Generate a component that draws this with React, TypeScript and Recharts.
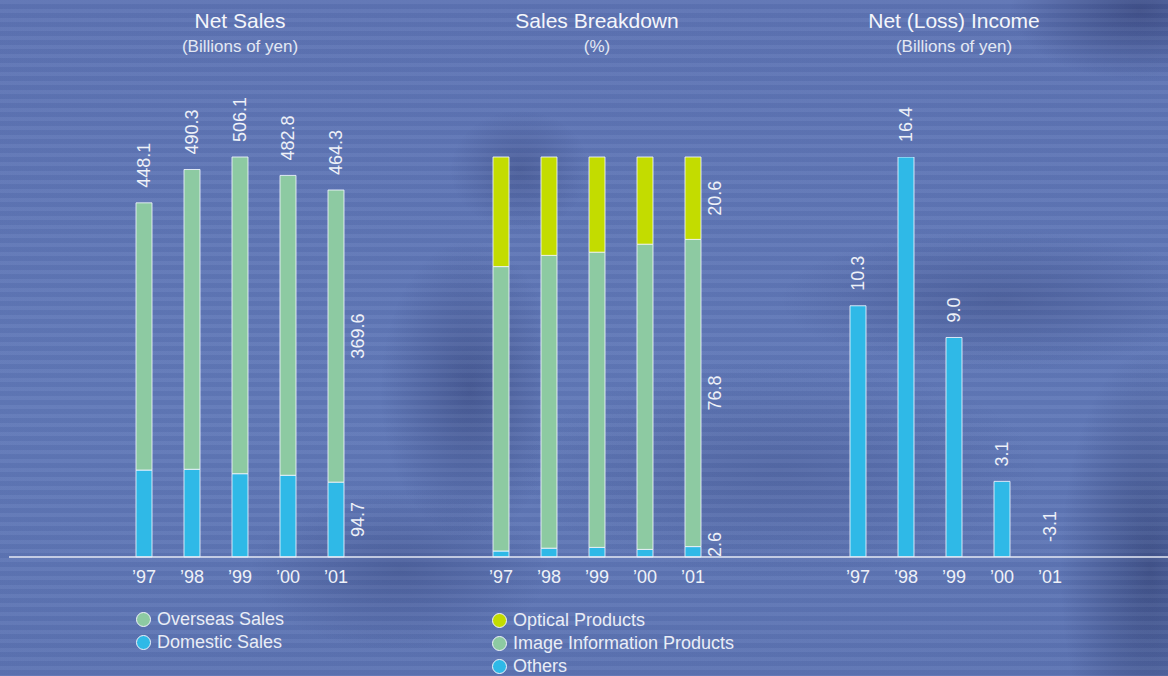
import { Bar, BarChart, LabelList, Rectangle, XAxis, YAxis } from 'recharts';

const years = ['’97', '’98', '’99', '’00', '’01'];

// Net Sales (billions of yen)
const domesticSales = [110.0, 111.0, 105.4, 103.4, 94.7];
const overseasSales = [338.1, 379.3, 400.7, 379.4, 369.6];
const netSalesTotal = [448.1, 490.3, 506.1, 482.8, 464.3];

// Sales Breakdown (%)
const othersShare = [1.5, 2.2, 2.4, 1.9, 2.6];
const imageInfoShare = [71.1, 73.2, 73.8, 76.3, 76.8];
const opticalShare = [27.4, 24.6, 23.8, 21.8, 20.6];

// Net (Loss) Income (billions of yen)
const netIncome = [10.3, 16.4, 9.0, 3.1, -3.1];

const salesData = years.map((year, i) => ({
  year,
  domestic: domesticSales[i],
  overseas: overseasSales[i],
  total: netSalesTotal[i],
}));

const breakdownData = years.map((year, i) => ({
  year,
  others: othersShare[i],
  image: imageInfoShare[i],
  optical: opticalShare[i],
}));

const incomeData = years.map((year, i) => ({ year, income: netIncome[i] }));

const GREEN = '#8dcaa2';
const BLUE = '#2fb9e7';
const LIME = '#c3dc00';
const TEXT = '#eef1f8';
const OUTLINE = 'rgba(240,245,255,0.85)';
const FONT = '"Liberation Sans", Arial, Helvetica, sans-serif';

const CHART_H = 600;
const margin = { top: 157, right: 0, left: 0, bottom: 0 };

const fmt = (v: number) => Number(v).toFixed(1);

const rotated = (x: number, y: number, text: string, anchor: string) => (
  <text
    x={x}
    y={y}
    transform={`rotate(-90, ${x}, ${y})`}
    textAnchor={anchor}
    dy="0.36em"
    fill={TEXT}
    fontSize={18}
    fontFamily={FONT}
  >
    {text}
  </text>
);

const box = (props: any) => {
  const vb = props.viewBox ?? props;
  return { x: Number(vb.x), y: Number(vb.y), width: Number(vb.width), height: Number(vb.height) };
};

// value written above the bar, reading upward
const AboveLabel = (props: any) => {
  const { x, y, width, height } = box(props);
  return rotated(x + width / 2, Math.min(y, y + height) - 15, fmt(props.value), 'start');
};

// value written to the right of the last bar's segment
const SideLabel = (props: any) => {
  if (props.index !== years.length - 1) return null;
  const { x, y, width, height } = box(props);
  const top = Math.min(y, y + height);
  const h = Math.abs(height);
  const cx = x + width + 14;
  if (h < 30) return rotated(cx, top + h, fmt(props.value), 'start');
  return rotated(cx, top + h / 2, fmt(props.value), 'middle');
};

const YearTick = ({ x, y, payload }: any) => (
  <text x={x} y={y} dy="0.71em" textAnchor="middle" fill={TEXT} fontSize={18} fontFamily={FONT}>
    {payload.value}
  </text>
);

const IncomeBar = (props: any) =>
  props.payload && props.payload.income < 0 ? <g /> : <Rectangle {...props} />;

const xAxisProps = {
  dataKey: 'year',
  height: 43,
  tickLine: false,
  tickSize: 0,
  tickMargin: 13,
  axisLine: { stroke: '#e6eaf4', strokeWidth: 1.5 },
  tick: <YearTick />,
  interval: 0 as const,
};

function Title({ x, title, sub }: { x: number; title: string; sub: string }) {
  return (
    <>
      <div
        style={{
          position: 'absolute',
          left: x,
          top: 9,
          transform: 'translateX(-50%)',
          fontSize: 21,
          lineHeight: '24px',
          whiteSpace: 'nowrap',
          color: '#f4f6fb',
        }}
      >
        {title}
      </div>
      <div
        style={{
          position: 'absolute',
          left: x,
          top: 37,
          transform: 'translateX(-50%)',
          fontSize: 17,
          lineHeight: '20px',
          whiteSpace: 'nowrap',
          color: '#e3e8f3',
        }}
      >
        {sub}
      </div>
    </>
  );
}

function LegendList({ x, y, items }: { x: number; y: number; items: { label: string; color: string }[] }) {
  return (
    <div style={{ position: 'absolute', left: x, top: y }}>
      {items.map((it) => (
        <div key={it.label} style={{ display: 'flex', alignItems: 'center', height: 23 }}>
          <span
            style={{
              width: 13,
              height: 13,
              borderRadius: '50%',
              background: it.color,
              border: '1.5px solid #f0f3fa',
              marginRight: 6,
              flex: 'none',
            }}
          />
          <span style={{ fontSize: 18, color: '#e9edf6', whiteSpace: 'nowrap' }}>{it.label}</span>
        </div>
      ))}
    </div>
  );
}

const background = [
  'repeating-linear-gradient(180deg, rgba(255,255,255,0.035) 0px, rgba(255,255,255,0.035) 4px, rgba(10,20,60,0.04) 4px, rgba(10,20,60,0.04) 9px)',
  'radial-gradient(ellipse 130px 70px at 1140px 10px, rgba(35,45,95,0.5), rgba(35,45,95,0) 100%)',
  'radial-gradient(ellipse 70px 60px at 520px 170px, rgba(35,45,95,0.3), rgba(35,45,95,0) 100%)',
  'radial-gradient(ellipse 90px 150px at 470px 390px, rgba(35,45,95,0.4), rgba(35,45,95,0) 100%)',
  'radial-gradient(ellipse 150px 80px at 400px 570px, rgba(35,45,95,0.28), rgba(35,45,95,0) 100%)',
  'radial-gradient(ellipse 220px 70px at 1000px 300px, rgba(35,45,95,0.28), rgba(35,45,95,0) 100%)',
  'radial-gradient(ellipse 90px 220px at 1150px 570px, rgba(30,40,85,0.45), rgba(30,40,85,0) 100%)',
  'radial-gradient(ellipse 260px 110px at 780px 470px, rgba(40,50,100,0.2), rgba(40,50,100,0) 100%)',
  'linear-gradient(180deg, #5e74b4 0%, #6179b8 60%, #5d74b3 100%)',
].join(', ');

export default function App() {
  return (
    <div
      style={{
        position: 'absolute',
        left: 0,
        top: 0,
        width: 1168,
        height: 676,
        overflow: 'hidden',
        background,
        fontFamily: FONT,
      }}
    >
      <Title x={240} title="Net Sales" sub="(Billions of yen)" />
      <Title x={597} title="Sales Breakdown" sub="(%)" />
      <Title x={954} title="Net (Loss) Income" sub="(Billions of yen)" />

      <div style={{ position: 'absolute', left: 9, top: 0 }}>
        <BarChart width={411} height={CHART_H} data={salesData} margin={margin} barSize={16}>
          <XAxis {...xAxisProps} padding={{ left: 111, right: 60 }} />
          <YAxis hide domain={[0, 506.1]} />
          <Bar dataKey="domestic" stackId="s" fill={BLUE} stroke={OUTLINE} strokeWidth={1} isAnimationActive={false}>
            <LabelList dataKey="domestic" content={<SideLabel />} />
          </Bar>
          <Bar dataKey="overseas" stackId="s" fill={GREEN} stroke={OUTLINE} strokeWidth={1} isAnimationActive={false}>
            <LabelList dataKey="overseas" content={<SideLabel />} />
            <LabelList dataKey="total" content={<AboveLabel />} />
          </Bar>
        </BarChart>
      </div>

      <div style={{ position: 'absolute', left: 420, top: 0 }}>
        <BarChart width={357} height={CHART_H} data={breakdownData} margin={margin} barSize={16}>
          <XAxis {...xAxisProps} padding={{ left: 57, right: 60 }} />
          <YAxis hide domain={[0, 100]} />
          <Bar dataKey="others" stackId="b" fill={BLUE} stroke={OUTLINE} strokeWidth={1} isAnimationActive={false}>
            <LabelList dataKey="others" content={<SideLabel />} />
          </Bar>
          <Bar dataKey="image" stackId="b" fill={GREEN} stroke={OUTLINE} strokeWidth={1} isAnimationActive={false}>
            <LabelList dataKey="image" content={<SideLabel />} />
          </Bar>
          <Bar dataKey="optical" stackId="b" fill={LIME} stroke={OUTLINE} strokeWidth={1} isAnimationActive={false}>
            <LabelList dataKey="optical" content={<SideLabel />} />
          </Bar>
        </BarChart>
      </div>

      <div style={{ position: 'absolute', left: 777, top: 0 }}>
        <BarChart width={391} height={CHART_H} data={incomeData} margin={margin} barSize={16}>
          <XAxis {...xAxisProps} padding={{ left: 57, right: 94 }} />
          <YAxis hide domain={[0, 16.4]} allowDataOverflow />
          <Bar
            dataKey="income"
            fill={BLUE}
            stroke={OUTLINE}
            strokeWidth={1}
            shape={IncomeBar}
            isAnimationActive={false}
          >
            <LabelList dataKey="income" content={<AboveLabel />} />
          </Bar>
        </BarChart>
      </div>

      <LegendList
        x={136}
        y={608}
        items={[
          { label: 'Overseas Sales', color: GREEN },
          { label: 'Domestic Sales', color: BLUE },
        ]}
      />
      <LegendList
        x={492}
        y={609}
        items={[
          { label: 'Optical Products', color: LIME },
          { label: 'Image Information Products', color: GREEN },
          { label: 'Others', color: BLUE },
        ]}
      />
    </div>
  );
}
